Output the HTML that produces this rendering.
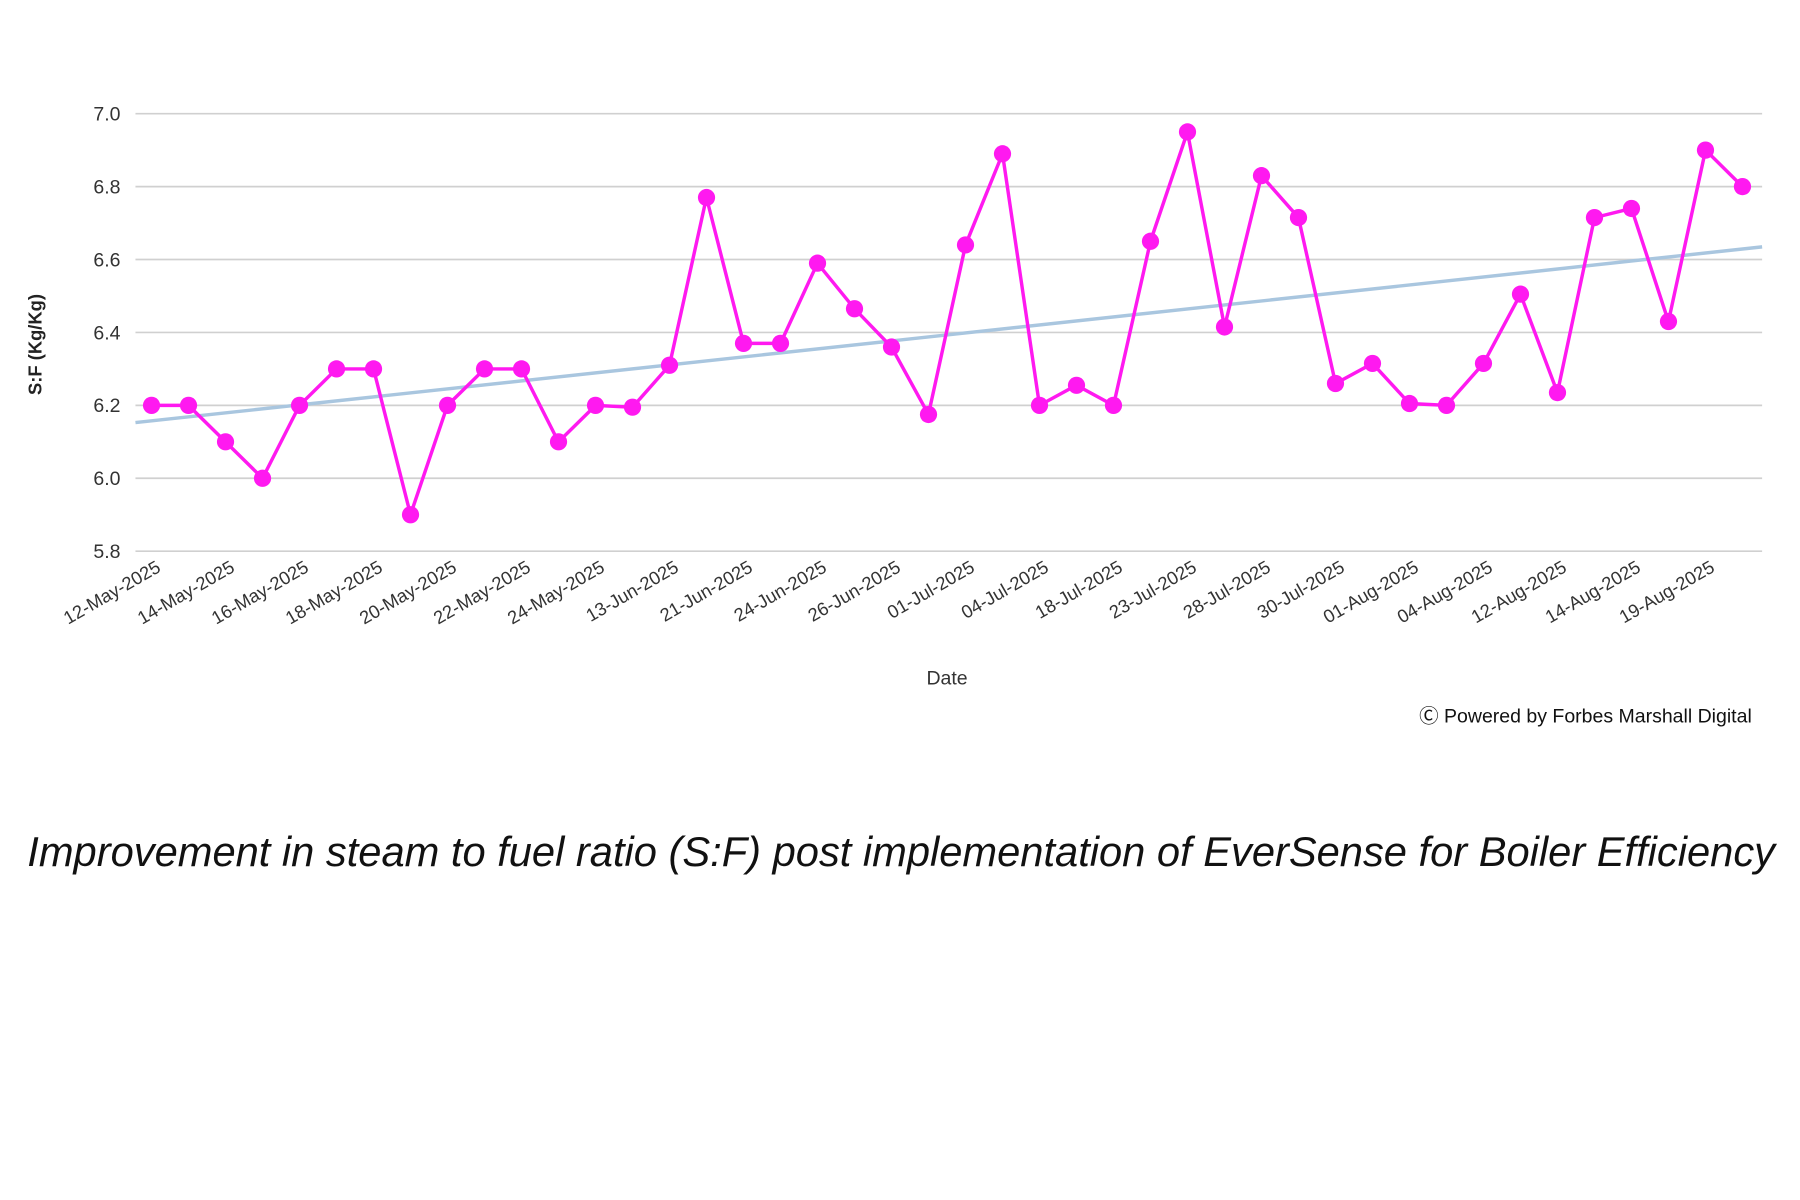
<!DOCTYPE html>
<html><head><meta charset="utf-8"><style>
html,body{margin:0;padding:0;background:#fff;}
svg{display:block;}
text{font-family:"Liberation Sans",sans-serif;}
</style></head><body>
<svg width="1800" height="1200" viewBox="0 0 1568 1045" preserveAspectRatio="none" xmlns="http://www.w3.org/2000/svg">
<rect width="1568" height="1045" fill="#fff"/>
<g stroke="#d0d0d0" stroke-width="1.5">
<line x1="118" y1="99" x2="1535" y2="99"/>
<line x1="118" y1="162.5" x2="1535" y2="162.5"/>
<line x1="118" y1="226" x2="1535" y2="226"/>
<line x1="118" y1="289.5" x2="1535" y2="289.5"/>
<line x1="118" y1="353" x2="1535" y2="353"/>
<line x1="118" y1="416.5" x2="1535" y2="416.5"/>
<line x1="118" y1="480" x2="1535" y2="480"/>
</g>
<g font-size="17" fill="#333" text-anchor="end">
<text x="105" y="105">7.0</text>
<text x="105" y="168.5">6.8</text>
<text x="105" y="232">6.6</text>
<text x="105" y="295.5">6.4</text>
<text x="105" y="359">6.2</text>
<text x="105" y="422.5">6.0</text>
<text x="105" y="486">5.8</text>
</g>
<text transform="translate(36,300) rotate(-90)" text-anchor="middle" font-size="16" font-weight="bold" fill="#222">S:F (Kg/Kg)</text>
<line x1="118" y1="368" x2="1535" y2="215" stroke="#a9c6df" stroke-width="3"/>
<g id="series"></g>
<g id="labels" font-size="16" fill="#333" text-anchor="end"></g>
<text x="825" y="596" text-anchor="middle" font-size="17" fill="#333">Date</text>
<text x="1526" y="629" text-anchor="end" font-size="17" fill="#111">Ⓒ Powered by Forbes Marshall Digital</text>
<text x="785" y="754" text-anchor="middle" font-size="36.3" font-style="italic" fill="#111">Improvement in steam to fuel ratio (S:F) post implementation of EverSense for Boiler Efficiency</text>
</svg>
<script>
var v=[6.2,6.2,6.1,6.0,6.2,6.3,6.3,5.9,6.2,6.3,6.3,6.1,6.2,6.195,6.31,6.77,6.37,6.37,6.59,6.465,6.36,6.175,6.64,6.89,6.2,6.255,6.2,6.65,6.95,6.415,6.83,6.715,6.26,6.315,6.205,6.2,6.315,6.505,6.235,6.715,6.74,6.43,6.9,6.8];
var L=["12-May-2025","14-May-2025","16-May-2025","18-May-2025","20-May-2025","22-May-2025","24-May-2025","13-Jun-2025","21-Jun-2025","24-Jun-2025","26-Jun-2025","01-Jul-2025","04-Jul-2025","18-Jul-2025","23-Jul-2025","28-Jul-2025","30-Jul-2025","01-Aug-2025","04-Aug-2025","12-Aug-2025","14-Aug-2025","19-Aug-2025"];
var ns="http://www.w3.org/2000/svg",g=document.getElementById("series"),lg=document.getElementById("labels");
function X(i){return 132+i*32.23}function Y(a){return 480-(a-5.8)/0.2*63.5}
var d="";v.forEach(function(a,i){d+=(i?"L":"M")+X(i).toFixed(1)+" "+Y(a).toFixed(1)});
var p=document.createElementNS(ns,"path");p.setAttribute("d",d);p.setAttribute("fill","none");p.setAttribute("stroke","#ff19f0");p.setAttribute("stroke-width","3");g.appendChild(p);
v.forEach(function(a,i){var c=document.createElementNS(ns,"circle");c.setAttribute("cx",X(i));c.setAttribute("cy",Y(a));c.setAttribute("r","7.5");c.setAttribute("fill","#ff19f0");g.appendChild(c);});
L.forEach(function(s,k){var t=document.createElementNS(ns,"text");var x=X(2*k)+9,y=497;t.setAttribute("transform","translate("+x+","+y+") rotate(-30)");t.textContent=s;lg.appendChild(t);});
</script>
</body></html>
